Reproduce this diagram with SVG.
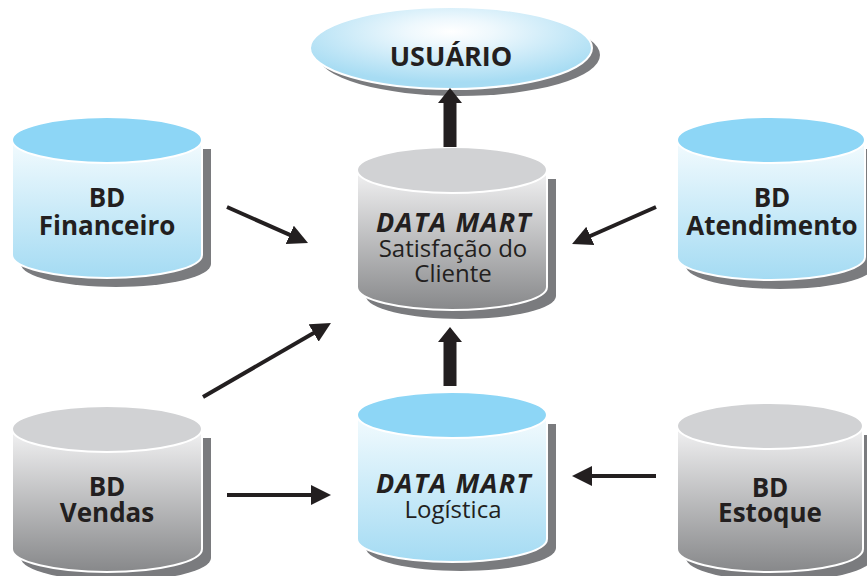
<svg xmlns="http://www.w3.org/2000/svg" width="867" height="576" viewBox="0 0 867 576">
  <defs>
    <linearGradient id="blueBody" x1="0" y1="0" x2="0" y2="1">
      <stop offset="0" stop-color="#f3fbfe"/>
      <stop offset="1" stop-color="#a4dbf3"/>
    </linearGradient>
    <linearGradient id="grayBody" x1="0" y1="0" x2="0" y2="1">
      <stop offset="0" stop-color="#f2f2f3"/>
      <stop offset="1" stop-color="#87888a"/>
    </linearGradient>
    <radialGradient id="userFill" cx="0.5" cy="0.3" r="0.62">
      <stop offset="0" stop-color="#ffffff"/>
      <stop offset="0.25" stop-color="#eef8fd"/>
      <stop offset="1" stop-color="#a7dcf3"/>
    </radialGradient>
    <marker id="head" viewBox="0 0 20 20" refX="10" refY="10" markerWidth="20" markerHeight="20" markerUnits="userSpaceOnUse" orient="auto">
      <path d="M0,0 L20,10 L0,20 Z" fill="#231f20"/>
    </marker>
  </defs>
  <style>
    .shadow { fill: #7a7b7e; }
    .body-blue { fill: url(#blueBody); stroke: #ffffff; stroke-width: 2; }
    .body-gray { fill: url(#grayBody); stroke: #ffffff; stroke-width: 2; }
    .top-blue { fill: #8dd6f6; stroke: #ffffff; stroke-width: 2; }
    .top-gray { fill: #d1d2d4; stroke: #ffffff; stroke-width: 2; }
    .lbl { font-family: "Open Sans", "Liberation Sans", sans-serif; fill: #231f20; text-anchor: middle; }
    .b { font-weight: 700; font-size: 26px; }
    .u { font-weight: 700; font-size: 27px; }
    .bi { font-weight: 700; font-style: italic; font-size: 27px; letter-spacing: 1.2px; }
    .r { font-weight: 400; font-size: 24px; }
    .conn { stroke: #231f20; stroke-width: 4; fill: none; marker-end: url(#head); }
    .thick { fill: #231f20; }
  </style>

  <!-- USUÁRIO -->
  <g id="usuario">
    <ellipse class="shadow" cx="459" cy="55" rx="141" ry="41"/>
    <ellipse cx="451" cy="48" rx="141" ry="41" fill="url(#userFill)" stroke="#ffffff" stroke-width="2"/>
    <text class="lbl u" x="451" y="66">USUÁRIO</text>
  </g>

  <!-- BD Financeiro -->
  <g id="bd-financeiro">
    <path class="shadow" d="M21,149 L21,264 A95,23 0 0 0 211,264 L211,149 Z"/>
    <path class="body-blue" d="M12,140 L12,255 A95,23 0 0 0 202,255 L202,140 Z"/>
    <ellipse class="top-blue" cx="107" cy="140" rx="95" ry="23"/>
    <text class="lbl b" x="107" y="207">BD</text>
    <text class="lbl b" x="107" y="235">Financeiro</text>
  </g>

  <!-- BD Atendimento -->
  <g id="bd-atendimento">
    <path class="shadow" d="M686,149 L686,266 A94,23 0 0 0 874,266 L874,149 Z"/>
    <path class="body-blue" d="M677,140 L677,257 A94,23 0 0 0 865,257 L865,140 Z"/>
    <ellipse class="top-blue" cx="771" cy="140" rx="94" ry="23"/>
    <text class="lbl b" x="772" y="207">BD</text>
    <text class="lbl b" x="772" y="235">Atendimento</text>
  </g>

  <!-- Data Mart Satisfação do Cliente -->
  <g id="dm-satisfacao">
    <path class="shadow" d="M366,179 L366,296 A95,23 0 0 0 556,296 L556,179 Z"/>
    <path class="body-gray" d="M357,170 L357,287 A95,23 0 0 0 547,287 L547,170 Z"/>
    <ellipse class="top-gray" cx="452" cy="170" rx="95" ry="23"/>
    <text class="lbl bi" x="454" y="232">DATA MART</text>
    <text class="lbl r" x="453" y="257">Satisfação do</text>
    <text class="lbl r" x="453" y="282">Cliente</text>
  </g>

  <!-- Data Mart Logística -->
  <g id="dm-logistica">
    <path class="shadow" d="M366,424 L366,548 A95,23 0 0 0 556,548 L556,424 Z"/>
    <path class="body-blue" d="M357,415 L357,539 A95,23 0 0 0 547,539 L547,415 Z"/>
    <ellipse class="top-blue" cx="452" cy="415" rx="95" ry="23"/>
    <text class="lbl bi" x="454" y="493">DATA MART</text>
    <text class="lbl r" x="453" y="518">Logística</text>
  </g>

  <!-- BD Vendas -->
  <g id="bd-vendas">
    <path class="shadow" d="M21,438 L21,558 A95,23 0 0 0 211,558 L211,438 Z"/>
    <path class="body-gray" d="M12,429 L12,549 A95,23 0 0 0 202,549 L202,429 Z"/>
    <ellipse class="top-gray" cx="107" cy="429" rx="95" ry="23"/>
    <text class="lbl b" x="107" y="496">BD</text>
    <text class="lbl b" x="107" y="522">Vendas</text>
  </g>

  <!-- BD Estoque -->
  <g id="bd-estoque">
    <path class="shadow" d="M686,435 L686,558 A93,23 0 0 0 872,558 L872,435 Z"/>
    <path class="body-gray" d="M677,426 L677,549 A93,23 0 0 0 863,549 L863,426 Z"/>
    <ellipse class="top-gray" cx="770" cy="426" rx="93" ry="23"/>
    <text class="lbl b" x="770" y="497">BD</text>
    <text class="lbl b" x="770" y="522">Estoque</text>
  </g>

  <!-- Connectors -->
  <g id="connectors">
    <line class="conn" x1="227" y1="207" x2="298.9" y2="238.9"/>
    <line class="conn" x1="203" y1="397" x2="322.3" y2="328"/>
    <line class="conn" x1="227" y1="495" x2="321" y2="495"/>
    <line class="conn" x1="656" y1="207" x2="581.2" y2="240"/>
    <line class="conn" x1="656" y1="476" x2="582" y2="476"/>
    <path class="thick" d="M443.5,386 L443.5,342 L438,342 L450,327 L462,342 L456.5,342 L456.5,386 Z"/>
    <path class="thick" d="M443.5,147 L443.5,103 L438,103 L450,88 L462,103 L456.5,103 L456.5,147 Z"/>
  </g>
</svg>
